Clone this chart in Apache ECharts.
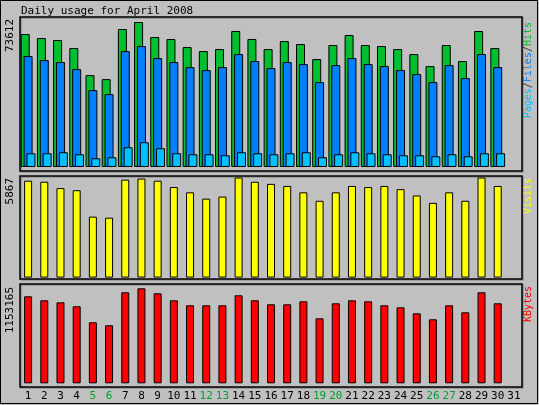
<!DOCTYPE html>
<html><head><meta charset="utf-8">
<script src="https://cdn.jsdelivr.net/npm/echarts@6/dist/echarts.min.js"></script>
<style>html,body{margin:0;padding:0;background:#c0c0c0}#c{width:539px;height:405px}</style>
</head><body><div id="c"></div>
<script>
const days = ['1','2','3','4','5','6','7','8','9','10','11','12','13','14','15','16','17','18','19','20','21','22','23','24','25','26','27','28','29','30','31'];
const weekendDays = ['5','6','12','13','19','20','26','27'];
const hits = [67505,65470,64452,60383,46648,44613,70048,73612,65979,64961,60892,58857,59874,69031,64961,59874,63944,62418,54787,61909,66996,61909,61400,59874,57330,51226,61909,53770,69031,60383,null];
const files = [56313,54278,53261,49699,39017,36982,58857,61400,55296,53261,50717,49191,50717,57330,53770,50208,53261,52243,43087,51734,55296,52243,51226,49191,47156,43087,51734,45121,57330,50717,null];
const pages = [6969,6969,7478,6460,4426,4934,10021,12565,9513,6969,6460,6460,5952,7478,6969,6460,6969,7478,4934,6460,7478,6969,6460,5952,5952,5443,6460,5443,6969,6969,null];
const visits = [5681,5619,5247,5123,3574,3512,5743,5805,5681,5309,4999,4628,4751,5867,5619,5495,5371,4999,4504,4999,5371,5309,5371,5185,4814,4380,4999,4504,5867,5371,null];
const kbytes = [1056006,1007454,983178,934626,740418,704004,1104558,1153165,1092420,1007454,946764,946764,946764,1068144,1007454,958902,958902,995316,788970,971040,1007454,995316,946764,922488,849660,776832,946764,861798,1104558,971040,null];
const title = 'Daily usage for April 2008';
const maxHits = 73612, maxVisits = 5867, maxKB = 1153165;

const mono = 'DejaVu Sans Mono';
const ch = echarts.init(document.getElementById('c'));
const grids = [
  {left:20,right:17,top:17,bottom:234},
  {left:20,right:17,top:176,bottom:126},
  {left:20,right:17,top:284,bottom:18}
].map(g=>Object.assign(g,{show:true,backgroundColor:'#c0c0c0',borderColor:'#000',borderWidth:1.5,shadowColor:'#909090',shadowOffsetX:1,shadowOffsetY:1}));
const xa = i => ({type:'category',gridIndex:i,data:days,axisLine:{show:false},axisTick:{show:false},
  axisLabel:{show:i===2,fontFamily:mono,fontSize:11,margin:4,interval:0,
    color:(v)=>weekendDays.includes(v)?'#00a030':'#000'}});
const ya = (i,mn,mx)=>({type:'value',gridIndex:i,min:mn,max:mx,show:false,splitLine:{show:false}});
const bs = {borderColor:'#000',borderWidth:1};
const f10 = '10px '+mono;
ch.setOption({
  animation:false,
  backgroundColor:'#c0c0c0',
  grid:grids,
  xAxis:[xa(0),xa(1),xa(2)],
  yAxis:[ya(0,-2035,76156),ya(1,-83,5956),ya(2,-44911,1205358)],
  series:[
    {type:'bar',name:'Hits',data:hits,xAxisIndex:0,yAxisIndex:0,barWidth:9,barGap:'-68%',itemStyle:Object.assign({color:'#00c030'},bs)},
    {type:'bar',name:'Files',data:files,xAxisIndex:0,yAxisIndex:0,barWidth:9,barGap:'-68%',itemStyle:Object.assign({color:'#0080ff'},bs)},
    {type:'bar',name:'Pages',data:pages,xAxisIndex:0,yAxisIndex:0,barWidth:9,barGap:'-68%',itemStyle:Object.assign({color:'#00c0ff'},bs)},
    {type:'bar',name:'Visits',data:visits,xAxisIndex:1,yAxisIndex:1,barWidth:8,itemStyle:Object.assign({color:'#ffff00'},bs)},
    {type:'bar',name:'KBytes',data:kbytes,xAxisIndex:2,yAxisIndex:2,barWidth:8,itemStyle:Object.assign({color:'#ff0000'},bs)}
  ],
  graphic:[
    {type:'rect',shape:{x:0.5,y:0.5,width:537,height:403},style:{fill:null,stroke:'#000',lineWidth:1},silent:true},
    {type:'text',x:21,y:11,style:{text:title,font:'11px '+mono,fill:'#000',verticalAlign:'middle'}},
    {type:'text',x:10,y:19,rotation:Math.PI/2,style:{text:String(maxHits),font:'11px '+mono,fill:'#000',align:'right',verticalAlign:'middle'}},
    {type:'text',x:10,y:178,rotation:Math.PI/2,style:{text:String(maxVisits),font:'11px '+mono,fill:'#000',align:'right',verticalAlign:'middle'}},
    {type:'text',x:10,y:287,rotation:Math.PI/2,style:{text:String(maxKB),font:'11px '+mono,fill:'#000',align:'right',verticalAlign:'middle'}},
    {type:'text',x:528,y:22,rotation:Math.PI/2,style:{text:'{p|Pages}{s|/}{f|Files}{s|/}{h|Hits}',align:'right',verticalAlign:'middle',font:f10,
      rich:{p:{fill:'#00c0ff',font:f10},f:{fill:'#0080ff',font:f10},h:{fill:'#00c030',font:f10},s:{fill:'#404040',font:f10}}}},
    {type:'text',x:528,y:178,rotation:Math.PI/2,style:{text:'Visits',font:f10,fill:'#ffff00',align:'right',verticalAlign:'middle'}},
    {type:'text',x:528,y:286,rotation:Math.PI/2,style:{text:'KBytes',font:f10,fill:'#ff0000',align:'right',verticalAlign:'middle'}}
  ]
});
</script></body></html>
